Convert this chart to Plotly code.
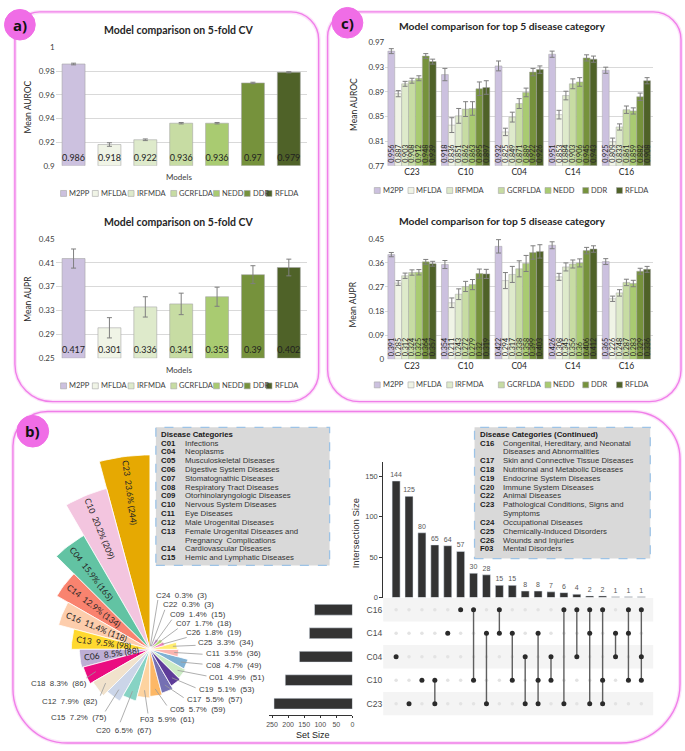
import numpy as np
import plotly.graph_objects as go

W, H = 685, 751


def fx(x):
    return x / W


def fy(y):
    return 1 - y / H


# ---------------------------------------------------------------- data
models = ["M2PP", "MFLDA", "IRFMDA", "GCRFLDA", "NEDD", "DDR", "RFLDA"]
model_colors = ["#CCC1DF", "#F0F4E6", "#DEEACB", "#C7DCA3", "#A9CB71", "#76923C", "#4F6228"]

cv_auroc = [0.986, 0.918, 0.922, 0.936, 0.936, 0.970, 0.979]
cv_auroc_err = [0.0007, 0.0015, 0.0007, 0.0006, 0.0006, 0.0006, 0.0005]
cv_aupr = [0.417, 0.301, 0.336, 0.341, 0.353, 0.390, 0.402]
cv_aupr_err = [0.016, 0.017, 0.017, 0.018, 0.016, 0.015, 0.014]

top_cats = ["C23", "C10", "C04", "C14", "C16"]
auroc_m2pp = [0.956, 0.918, 0.932, 0.951, 0.925]
auroc_mflda = [0.887, 0.836, 0.825, 0.853, 0.809]
auroc_irfmda = [0.903, 0.851, 0.849, 0.884, 0.833]
auroc_gcrflda = [0.908, 0.862, 0.871, 0.903, 0.861]
auroc_nedd = [0.912, 0.863, 0.889, 0.906, 0.859]
auroc_ddr = [0.948, 0.895, 0.922, 0.945, 0.882]
auroc_rflda = [0.939, 0.897, 0.926, 0.943, 0.908]
auroc_err_m2pp = [0.004, 0.010, 0.008, 0.005, 0.005]
auroc_err_mflda = [0.005, 0.012, 0.006, 0.007, 0.006]
auroc_err_irfmda = [0.004, 0.012, 0.008, 0.007, 0.005]
auroc_err_gcrflda = [0.004, 0.012, 0.008, 0.008, 0.006]
auroc_err_nedd = [0.004, 0.011, 0.007, 0.007, 0.005]
auroc_err_ddr = [0.004, 0.011, 0.006, 0.005, 0.006]
auroc_err_rflda = [0.004, 0.011, 0.006, 0.005, 0.005]

aupr_m2pp = [0.391, 0.354, 0.422, 0.426, 0.365]
aupr_mflda = [0.285, 0.211, 0.294, 0.308, 0.226]
aupr_irfmda = [0.312, 0.243, 0.317, 0.345, 0.248]
aupr_gcrflda = [0.324, 0.272, 0.338, 0.356, 0.287]
aupr_nedd = [0.325, 0.279, 0.358, 0.360, 0.283]
aupr_ddr = [0.364, 0.320, 0.399, 0.406, 0.329]
aupr_rflda = [0.357, 0.319, 0.403, 0.412, 0.336]
aupr_err_m2pp = [0.008, 0.015, 0.025, 0.013, 0.011]
aupr_err_mflda = [0.009, 0.018, 0.030, 0.013, 0.010]
aupr_err_irfmda = [0.010, 0.020, 0.030, 0.015, 0.012]
aupr_err_gcrflda = [0.010, 0.019, 0.030, 0.015, 0.012]
aupr_err_nedd = [0.010, 0.019, 0.030, 0.015, 0.012]
aupr_err_ddr = [0.009, 0.017, 0.025, 0.012, 0.011]
aupr_err_rflda = [0.009, 0.017, 0.025, 0.012, 0.011]

cv_auroc_ticks = [0.9, 0.92, 0.94, 0.96, 0.98, 1.0]
cv_auroc_ticktext = ["0.9", "0.92", "0.94", "0.96", "0.98", "1"]
cv_aupr_ticks = [0.25, 0.29, 0.33, 0.37, 0.41, 0.45]
cv_aupr_ticktext = ["0.25", "0.29", "0.33", "0.37", "0.41", "0.45"]
cat_auroc_ticks = [0.77, 0.81, 0.85, 0.89, 0.93, 0.97]
cat_auroc_ticktext = ["0.77", "0.81", "0.85", "0.89", "0.93", "0.97"]
cat_aupr_ticks = [0, 0.09, 0.18, 0.27, 0.36, 0.45]
cat_aupr_ticktext = ["0", "0.09", "0.18", "0.27", "0.36", "0.45"]

# rose chart of disease categories
rose_codes = ["C23", "C10", "C04", "C14", "C16", "C13", "C06", "C18", "C12", "C15", "C20", "F03",
              "C05", "C17", "C19", "C01", "C08", "C11", "C25", "C26", "C07", "C09", "C22", "C24"]
rose_counts = [244, 209, 165, 134, 118, 98, 88, 86, 82, 75, 67, 61, 59, 57, 53, 51, 49, 36, 34, 19, 18, 15, 3, 3]
rose_pcts = ["23.6", "20.2", "15.9", "12.9", "11.4", "9.5", "8.5", "8.3", "7.9", "7.2", "6.5", "5.9",
             "5.7", "5.5", "5.1", "4.9", "4.7", "3.5", "3.3", "1.8", "1.7", "1.4", "0.3", "0.3"]
rose_colors = ["#E6A902", "#F3C5DF", "#62C3A3", "#F9836F", "#FDCDAC", "#FFD92F", "#BDAED4", "#EA0C80",
               "#F1E2CC", "#CBD5E8", "#87D3C4", "#FDD3A0", "#FDB866", "#7570B3", "#5E3C99", "#CCEBC5",
               "#80B1D3", "#FBB4AE", "#FFED6F", "#F781BF", "#B3DE69", "#BC80BD", "#E41A1C", "#A6761D"]

# upset plot
set_names = ["C23", "C10", "C04", "C14", "C16"]
set_sizes = [244, 209, 165, 134, 118]
inter_sizes = [144, 125, 80, 65, 64, 57, 30, 28, 15, 15, 8, 8, 7, 6, 4, 2, 2, 1, 1, 1]
inter_members = [["C04"], ["C23"], ["C10"], ["C10", "C23"], ["C14"], ["C16"], ["C16", "C10"],
                 ["C14", "C23"], ["C16", "C14"], ["C14", "C10"], ["C04", "C23"], ["C14", "C10", "C23"],
                 ["C04", "C10"], ["C16", "C23"], ["C16", "C04"], ["C16", "C14", "C23"],
                 ["C16", "C10", "C23"], ["C14", "C04"], ["C16", "C14", "C10"], ["C16", "C04", "C10"]]
upset_yticks = [0, 50, 100, 150]
setsize_ticks = [0, 50, 100, 150, 200, 250]

legend1_rows = [("C01", "Infections"), ("C04", "Neoplasms"), ("C05", "Musculoskeletal Diseases"),
                ("C06", "Digestive System Diseases"), ("C07", "Stomatognathic Diseases"),
                ("C08", "Respiratory Tract Diseases"), ("C09", "Otorhinolaryngologic Diseases"),
                ("C10", "Nervous System Diseases"), ("C11", "Eye Diseases"), ("C12", "Male Urogenital Diseases"),
                ("C13", "Female Urogenital Diseases and"), ("", "Pregnancy  Complications"),
                ("C14", "Cardiovascular Diseases"), ("C15", "Hemic and Lymphatic Diseases")]
legend2_rows = [("C16", "Congenital, Hereditary, and Neonatal"), ("", "Diseases and Abnormalities"),
                ("C17", "Skin and Connective Tissue Diseases"), ("C18", "Nutritional and Metabolic Diseases"),
                ("C19", "Endocrine System Diseases"), ("C20", "Immune System Diseases"),
                ("C22", "Animal Diseases"), ("C23", "Pathological Conditions, Signs and"), ("", "Symptoms"),
                ("C24", "Occupational Diseases"), ("C25", "Chemically-Induced Disorders"),
                ("C26", "Wounds and Injuries"), ("F03", "Mental Disorders")]

cat_auroc = [auroc_m2pp, auroc_mflda, auroc_irfmda, auroc_gcrflda, auroc_nedd, auroc_ddr, auroc_rflda]
cat_auroc_err = [auroc_err_m2pp, auroc_err_mflda, auroc_err_irfmda, auroc_err_gcrflda, auroc_err_nedd,
                 auroc_err_ddr, auroc_err_rflda]
cat_aupr = [aupr_m2pp, aupr_mflda, aupr_irfmda, aupr_gcrflda, aupr_nedd, aupr_ddr, aupr_rflda]
cat_aupr_err = [aupr_err_m2pp, aupr_err_mflda, aupr_err_irfmda, aupr_err_gcrflda, aupr_err_nedd,
                aupr_err_ddr, aupr_err_rflda]

# ---------------------------------------------------------------- figure
CAL = "Lato"
ARI = "Liberation Sans"
fig = go.Figure()
shapes = []
annots = []


def ann(x, y, text, size=9, color="#262626", xanchor="center", yanchor="middle", angle=0, family=CAL,
        xref="paper", yref="paper"):
    if xref == "paper":
        x = fx(x)
    if yref == "paper":
        y = fy(y)
    annots.append(dict(x=x, y=y, xref=xref, yref=yref, text=text, showarrow=False, xanchor=xanchor,
                       yanchor=yanchor, textangle=angle, borderpad=0,
                       font=dict(family=family, size=size, color=color)))


def cv_bars(vals, errs, xa, ya, base):
    for i, m in enumerate(models):
        fig.add_trace(go.Bar(
            x=[m], y=[vals[i] - base], base=base, xaxis=xa, yaxis=ya, offsetgroup=xa, width=0.64,
            marker=dict(color=model_colors[i], line=dict(color="#A6A6A6", width=0.6)),
            error_y=dict(type="data", array=[errs[i]], color="#7F7F7F", thickness=1, width=2.5),
            text=[f"{vals[i]:g}"], textposition="inside", insidetextanchor="start", textangle=0,
            constraintext="none", textfont=dict(family=CAL, size=9, color="#1F1F1F"),
            showlegend=False, hoverinfo="skip"))


def cat_bars(series, errs, xa, ya, base):
    for i, m in enumerate(models):
        fig.add_trace(go.Bar(
            x=top_cats, y=[v - base for v in series[i]], base=base, xaxis=xa, yaxis=ya,
            marker=dict(color=model_colors[i], line=dict(color="#A6A6A6", width=0.5)),
            error_y=dict(type="data", array=errs[i], color="#7F7F7F", thickness=1, width=2.5),
            text=[f"{v:g}" for v in series[i]], textposition="inside", insidetextanchor="start",
            textangle=-90, constraintext="none", textfont=dict(family=CAL, size=7.2, color="#262626"),
            showlegend=False, hoverinfo="skip"))


cv_bars(cv_auroc, cv_auroc_err, "x", "y", cv_auroc_ticks[0])
cv_bars(cv_aupr, cv_aupr_err, "x2", "y2", cv_aupr_ticks[0])
cat_bars(cat_auroc, cat_auroc_err, "x3", "y3", cat_auroc_ticks[0])
cat_bars(cat_aupr, cat_aupr_err, "x4", "y4", cat_aupr_ticks[0])

# ---------------- upset
cols = list(range(1, len(inter_sizes) + 1))
fig.add_trace(go.Bar(x=cols, y=inter_sizes, xaxis="x5", yaxis="y5", width=0.62, marker_color="#333333",
                     text=[str(v) for v in inter_sizes], textposition="outside", constraintext="none",
                     cliponaxis=False, textfont=dict(family=ARI, size=7, color="#595959"),
                     showlegend=False, hoverinfo="skip"))
rows = {n: i + 1 for i, n in enumerate(set_names)}
gx = [c for c in cols for _ in set_names]
gy = [rows[n] for _ in cols for n in set_names]
fig.add_trace(go.Scatter(x=gx, y=gy, mode="markers", xaxis="x6", yaxis="y6",
                         marker=dict(size=3.5, color="#E3E3E3"), showlegend=False, hoverinfo="skip"))
lx, ly = [], []
ax_, ay_ = [], []
for c, mem in zip(cols, inter_members):
    rr = [rows[m] for m in mem]
    if len(rr) > 1:
        lx += [c, c, None]
        ly += [min(rr), max(rr), None]
    ax_ += [c] * len(rr)
    ay_ += rr
fig.add_trace(go.Scatter(x=lx, y=ly, mode="lines", xaxis="x6", yaxis="y6",
                         line=dict(color="#5F5F5F", width=1.4), showlegend=False, hoverinfo="skip"))
fig.add_trace(go.Scatter(x=ax_, y=ay_, mode="markers", xaxis="x6", yaxis="y6",
                         marker=dict(size=5, color="#2B2B2B"), showlegend=False, hoverinfo="skip"))
fig.add_trace(go.Bar(x=set_sizes, y=[rows[n] for n in set_names], orientation="h", xaxis="x7", yaxis="y7",
                     width=0.46, marker_color="#333333", showlegend=False, hoverinfo="skip"))
for r in (1, 3, 5):
    shapes.append(dict(type="rect", xref="x6 domain", yref="y6", x0=0, x1=1, y0=r - 0.5, y1=r + 0.5,
                       fillcolor="#F4F4F4", line=dict(width=0), layer="below"))

# ---------------- rose chart (cartesian, equal scale)
CXP, CYP = 148, 653
S = 197 / 244.0  # px per count unit


def to_data(px, py):
    return (px - CXP) / S, (CYP - py) / S


for i, (code, cnt, col) in enumerate(zip(rose_codes, rose_counts, rose_colors)):
    a0 = 90 + 15 * i
    angs = np.radians(np.linspace(a0, a0 + 15, 10))
    xs = np.concatenate([[0], cnt * np.cos(angs), [0]])
    ys = np.concatenate([[0], cnt * np.sin(angs), [0]])
    fig.add_trace(go.Scatter(x=xs, y=ys, fill="toself", fillcolor=col, mode="lines",
                             line=dict(color="white", width=0.8), xaxis="x8", yaxis="y8",
                             showlegend=False, hoverinfo="skip"))

inside_n = 7
for i in range(inside_n):
    cnt = rose_counts[i]
    txt = f"{rose_codes[i]}  {rose_pcts[i]}% ({cnt})"
    tm = 90 + 15 * i + 7.5
    tl = 4.2 * len(txt)
    rt = (cnt * S - 3 - tl / 2) / S
    ang = -(tm + 180)
    ang = ((ang + 180) % 360) - 180
    ann(rt * np.cos(np.radians(tm)), rt * np.sin(np.radians(tm)), txt, size=8.5, color="#262626",
        angle=ang, xref="x8", yref="y8")

label_pos = {"C24": (153, 598), "C22": (160, 608), "C09": (167, 618), "C07": (173, 627), "C26": (183, 636),
             "C25": (195, 646), "C11": (203, 657), "C08": (203, 669), "C01": (207, 682), "C19": (196, 694),
             "C17": (184, 704), "C05": (167, 714), "F03": (137, 724), "C20": (93, 735), "C15": (47, 722),
             "C12": (38, 706), "C18": (27, 688)}
line_end = {"C24": (156, 603), "C22": (163, 613), "C09": (170, 623), "C07": (176, 632), "C26": (185, 641),
            "C25": (194, 649), "C11": (201, 658), "C08": (201, 668), "C01": (205, 680), "C19": (194, 692),
            "C17": (182, 702), "C05": (165, 710), "F03": (146, 718), "C20": (118, 727), "C15": (103, 716),
            "C12": (98, 700), "C18": (84, 682)}
for i in range(inside_n, len(rose_codes)):
    code = rose_codes[i]
    cnt = rose_counts[i]
    tm = np.radians(90 + 15 * i + 7.5)
    ex, ey = to_data(*line_end[code])
    rr = max(cnt * 0.85, 4)
    shapes.append(dict(type="line", xref="x8", yref="y8", x0=rr * np.cos(tm), y0=rr * np.sin(tm), x1=ex, y1=ey,
                       line=dict(color="#9A9A9A", width=0.8)))
    lx0, ly0 = to_data(*label_pos[code])
    ann(lx0, ly0, f"{code}  {rose_pcts[i]}%  ({cnt})", size=7.9, color="#3A3A3A", xanchor="left",
        xref="x8", yref="y8", family=ARI)

# ---------------------------------------------------------------- decorations
PINK = "#F07FE9"


def rpath(x0, y0, x1, y1, rtl, rtr, rbr, rbl):
    k = 0.5523
    p = [f"M {fx(x0 + rtl)},{fy(y0)}", f"L {fx(x1 - rtr)},{fy(y0)}",
         f"C {fx(x1 - rtr + k * rtr)},{fy(y0)} {fx(x1)},{fy(y0 + rtr - k * rtr)} {fx(x1)},{fy(y0 + rtr)}",
         f"L {fx(x1)},{fy(y1 - rbr)}",
         f"C {fx(x1)},{fy(y1 - rbr + k * rbr)} {fx(x1 - rbr + k * rbr)},{fy(y1)} {fx(x1 - rbr)},{fy(y1)}",
         f"L {fx(x0 + rbl)},{fy(y1)}",
         f"C {fx(x0 + rbl - k * rbl)},{fy(y1)} {fx(x0)},{fy(y1 - rbl + k * rbl)} {fx(x0)},{fy(y1 - rbl)}",
         f"L {fx(x0)},{fy(y0 + rtl)}",
         f"C {fx(x0)},{fy(y0 + rtl - k * rtl)} {fx(x0 + rtl - k * rtl)},{fy(y0)} {fx(x0 + rtl)},{fy(y0)} Z"]
    return " ".join(p)


for box in [(12, 7, 318, 402, 25, 28, 30, 38), (327, 7, 683, 402, 25, 28, 32, 32),
            (10, 412, 682, 748, 35, 48, 60, 55)]:
    path = rpath(*box)
    shapes.append(dict(type="path", path=path, xref="paper", yref="paper",
                       line=dict(color="rgba(240,127,233,0.22)", width=4), layer="below"))
    shapes.append(dict(type="path", path=path, xref="paper", yref="paper",
                       line=dict(color=PINK, width=1.4), layer="below"))

for (cx, cy, r, lab) in [(17, 20, 15.5, "a)"), (347, 18, 15.5, "c)"), (30, 432, 16, "b)")]:
    shapes.append(dict(type="circle", xref="paper", yref="paper", x0=fx(cx - r), x1=fx(cx + r),
                       y0=fy(cy + r), y1=fy(cy - r), fillcolor="#F06DE6", line=dict(color="#F06DE6", width=1)))
    ann(cx, cy, f"<b>{lab}</b>", size=15, color="#111111", family="Open Sans")

# chart titles and axis titles
ann(177, 25, "<b>Model comparison on 5-fold CV</b>", size=10.5)
ann(177, 220, "<b>Model comparison on 5-fold CV</b>", size=10.5)
ann(503, 21, "<b>Model comparison for top 5 disease category</b>", size=10.3)
ann(503, 219, "<b>Model comparison for top 5 disease category</b>", size=10.3)
ann(25, 103, "Mean AUROC", size=8.5, color="#262626", angle=-90)
ann(25, 298, "Mean AUPR", size=8.5, color="#262626", angle=-90)
ann(353, 101, "Mean AUROC", size=8.5, color="#262626", angle=-90)
ann(353, 303, "Mean AUPR", size=8.5, color="#262626", angle=-90)
ann(177, 174, "Models", size=8, color="#404040")
ann(177, 370, "Models", size=8, color="#404040")

# custom legends
leg_a = [61, 93, 129, 172, 215, 246, 268]
leg_c = [377, 411, 450, 502, 549, 587, 621]
for xs, yy in [(leg_a, 191), (leg_a, 386), (leg_c, 188), (leg_c, 385)]:
    for xsq, name, col in zip(xs, models, model_colors):
        shapes.append(dict(type="rect", xref="paper", yref="paper", x0=fx(xsq - 3), x1=fx(xsq + 3),
                           y0=fy(yy + 3), y1=fy(yy - 3), fillcolor=col, line=dict(color="#A6A6A6", width=0.6)))
        ann(xsq + 4.5, yy, name, size=7.5, color="#404040", xanchor="left")

# disease category legend boxes
for (bx0, by0, bx1, by1, title, rows_, tx, nx) in [
        (154, 428, 329, 568, "Disease Categories", legend1_rows, 158, 182),
        (475, 428, 652, 561, "Disease Categories (Continued)", legend2_rows, 479, 503)]:
    shapes.append(dict(type="rect", xref="paper", yref="paper", x0=fx(bx0), x1=fx(bx1), y0=fy(by1), y1=fy(by0),
                       fillcolor="#D9D9D9", line=dict(color="#9DC3E6", width=1.3, dash="dash")))
    ann(tx, 434.8, f"<b>{title}</b>", size=7.8, color="#1A1A1A", xanchor="left", family=ARI)
    for j, (code, name) in enumerate(rows_):
        yy = 444 + 8.93 * j
        if code:
            ann(tx, yy, f"<b>{code}</b>", size=7.8, color="#1A1A1A", xanchor="left", family=ARI)
        ann(nx, yy, name, size=7.8, color="#333333", xanchor="left", family=ARI)

ann(355, 535, "Intersection Size", size=9.5, color="#333333", angle=-90, family=ARI)
ann(312, 740, "Set Size", size=9, color="#222222", family=ARI)

# ---------------------------------------------------------------- layout
grid = "#D9D9D9"
tickf = dict(family=CAL, size=8, color="#404040")
s8 = S


def ycat(dom, rng, tv, tt):
    return dict(domain=dom, range=rng, tickvals=tv, ticktext=tt, gridcolor=grid, gridwidth=0.8,
                zeroline=False, showline=False, tickfont=tickf, fixedrange=True, ticks="")


layout = dict(
    width=W, height=H, margin=dict(l=0, r=0, t=0, b=0), autosize=False,
    paper_bgcolor="white", plot_bgcolor="rgba(0,0,0,0)", barmode="group", bargap=0.1, bargroupgap=0,
    showlegend=False, font=dict(family=CAL),
    xaxis=dict(domain=[fx(53), fx(306)], anchor="y", showticklabels=False, showgrid=False, zeroline=False,
               fixedrange=True),
    yaxis=ycat([fy(163), fy(43)], [0.9, 1.0], cv_auroc_ticks, cv_auroc_ticktext) | dict(anchor="x"),
    xaxis2=dict(domain=[fx(53), fx(306)], anchor="y2", showticklabels=False, showgrid=False, zeroline=False,
                fixedrange=True),
    yaxis2=ycat([fy(358), fy(237)], [0.25, 0.45], cv_aupr_ticks, cv_aupr_ticktext) | dict(anchor="x2"),
    xaxis3=dict(domain=[fx(385), fx(655)], anchor="y3", showgrid=False, zeroline=False, fixedrange=True,
                tickfont=dict(family=CAL, size=8.5, color="#262626")),
    yaxis3=ycat([fy(163), fy(38)], [0.77, 0.97], cat_auroc_ticks, cat_auroc_ticktext) | dict(anchor="x3"),
    xaxis4=dict(domain=[fx(385), fx(655)], anchor="y4", showgrid=False, zeroline=False, fixedrange=True,
                tickfont=dict(family=CAL, size=8.5, color="#262626")),
    yaxis4=ycat([fy(359), fy(237)], [0, 0.45], cat_aupr_ticks, cat_aupr_ticktext) | dict(anchor="x4"),
    xaxis5=dict(domain=[fx(383), fx(655)], anchor="y5", range=[0, 20.92], visible=False, fixedrange=True),
    yaxis5=dict(domain=[fy(600.5), fy(463)], anchor="x5", range=[0, 167.7], tickvals=upset_yticks,
                showgrid=False, zeroline=False, showline=True, linecolor="#333333", linewidth=0.8,
                ticks="outside", ticklen=3, tickcolor="#333333", tickwidth=0.8,
                tickfont=dict(family=ARI, size=7.5, color="#4D4D4D"), fixedrange=True),
    xaxis6=dict(domain=[fx(383), fx(655)], anchor="y6", range=[0, 20.92], visible=False, fixedrange=True),
    yaxis6=dict(domain=[fy(720), fy(601)], anchor="x6", range=[0.5, 5.5], tickvals=[1, 2, 3, 4, 5],
                ticktext=set_names, showgrid=False, zeroline=False, showline=False, ticks="",
                tickfont=dict(family=ARI, size=8.5, color="#4D4D4D"), fixedrange=True),
    xaxis7=dict(domain=[fx(268), fx(352)], anchor="y7", range=[259.4, 0], tickvals=setsize_ticks,
                showgrid=False, zeroline=False, showline=True, linecolor="#333333", linewidth=0.8,
                ticks="outside", ticklen=2, tickcolor="#333333", tickwidth=0.8,
                tickfont=dict(family=ARI, size=7, color="#4D4D4D"), fixedrange=True),
    yaxis7=dict(domain=[fy(720), fy(601)], anchor="x7", range=[0.5, 5.5], visible=False, fixedrange=True),
    xaxis8=dict(domain=[fx(10), fx(345)], anchor="y8", range=[(10 - CXP) / s8, (345 - CXP) / s8],
                visible=False, fixedrange=True),
    yaxis8=dict(domain=[fy(748), fy(412)], anchor="x8", range=[(CYP - 748) / s8, (CYP - 412) / s8],
                visible=False, fixedrange=True),
    shapes=shapes, annotations=annots,
)
fig.update_layout(**layout)
fig.write_html("out.html", config={"displayModeBar": False},
               post_script="document.body.style.margin='0';document.body.style.overflow='hidden';")
